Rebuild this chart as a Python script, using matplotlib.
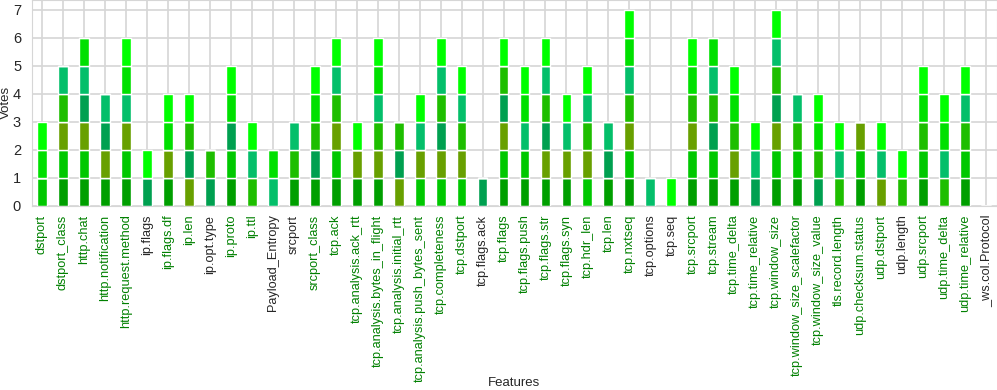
import numpy as np
import matplotlib
matplotlib.use("Agg")
import matplotlib.pyplot as plt
import seaborn as sns

features = ["dstport", "dstport_class", "http.chat", "http.notification",
            "http.request.method", "ip.flags", "ip.flags.df", "ip.len",
            "ip.opt.type", "ip.proto", "ip.ttl", "Payload_Entropy", "srcport",
            "srcport_class", "tcp.ack", "tcp.analysis.ack_rtt",
            "tcp.analysis.bytes_in_flight", "tcp.analysis.initial_rtt",
            "tcp.analysis.push_bytes_sent", "tcp.completeness", "tcp.dstport",
            "tcp.flags.ack", "tcp.flags", "tcp.flags.push", "tcp.flags.str",
            "tcp.flags.syn", "tcp.hdr_len", "tcp.len", "tcp.nxtseq",
            "tcp.options", "tcp.seq", "tcp.srcport", "tcp.stream",
            "tcp.time_delta", "tcp.time_relative", "tcp.window_size",
            "tcp.window_size_scalefactor", "tcp.window_size_value",
            "tls.record.length", "udp.checksum.status", "udp.dstport",
            "udp.length", "udp.srcport", "udp.time_delta", "udp.time_relative",
            "_ws.col.Protocol"]

# features whose label is drawn in black (the rest are green)
black_labels = ["ip.flags", "ip.opt.type", "Payload_Entropy", "srcport",
                "tcp.flags.ack", "tcp.options", "tcp.seq", "udp.length",
                "_ws.col.Protocol"]

# one vote (0/1) per feature for each selector, stacked bottom to top
votes_a = [0,1,1,1,1,0,1,0,0,1,0,0,1,1,1,1,1,0,0,0,0,0,1,1,1,1,0,1,1,0,0,1,1,1,0,1,1,0,0,1,0,0,1,0,1,0]
votes_b = [1,1,1,0,1,0,0,0,0,1,0,0,0,0,1,0,0,0,1,1,1,0,1,1,0,0,1,0,1,0,0,1,1,0,0,1,1,0,0,1,0,0,1,0,1,0]
votes_c = [0,1,1,1,1,0,1,1,0,0,0,0,0,0,1,1,1,1,1,1,1,0,1,0,1,1,1,0,1,0,0,1,0,1,0,1,0,0,0,1,1,0,0,0,0,0]
votes_d = [0,0,1,1,0,1,0,1,1,1,0,0,0,1,0,0,0,1,0,1,0,1,1,0,1,0,0,1,0,0,0,0,1,0,1,1,0,1,0,0,0,0,0,0,0,0]
votes_e = [0,1,0,0,0,0,0,1,1,0,1,0,1,1,1,0,1,1,0,1,1,0,1,0,1,0,1,0,1,0,0,1,1,1,0,1,1,1,1,0,0,1,1,1,1,0]
votes_f = [0,1,1,1,1,0,0,0,0,0,1,1,1,0,1,0,1,0,1,1,1,0,0,1,1,1,1,1,1,1,0,0,1,0,1,1,1,0,1,0,1,0,0,1,1,0]
votes_g = [1,0,1,0,1,0,1,0,0,1,0,1,0,1,0,0,1,0,0,0,0,0,0,1,0,0,0,0,1,0,0,1,1,1,0,0,0,1,0,0,0,0,1,1,0,0]
votes_h = [1,0,0,0,1,1,1,1,0,1,1,0,0,1,1,1,1,0,1,1,1,0,1,1,1,1,1,0,1,0,1,1,0,1,1,1,0,1,1,0,1,1,1,1,1,0]

all_votes = [votes_a, votes_b, votes_c, votes_d, votes_e, votes_f, votes_g, votes_h]
colors = ["#009f00", "#00c800", "#68a000", "#00a050",
          "#1ebe00", "#04bf6a", "#00e000", "#00ff00"]

sns.set_style("whitegrid")
plt.rcParams["font.family"] = ["Liberation Sans", "DejaVu Sans"]

fig, ax = plt.subplots(figsize=(9.97, 3.9), dpi=100)
fig.subplots_adjust(left=0.0316, right=0.9995, top=0.9995, bottom=0.473)

x = np.arange(len(features))
bottom = np.zeros(len(features))
for v, c in zip(all_votes, colors):
    v = np.array(v, dtype=float)
    ax.bar(x, v, width=0.47, bottom=bottom, color=c, edgecolor="white",
           linewidth=1, zorder=2)
    bottom += v

ax.set_xlim(-0.5, len(features) - 0.5)
ax.set_ylim(0, 7.35)
ax.set_yticks(range(8))
ax.set_xticks(x)
ax.set_xticklabels(features, rotation=90, fontsize=9.2)
for lbl in ax.get_xticklabels():
    lbl.set_color("#262626" if lbl.get_text() in black_labels else "green")
ax.tick_params(axis="y", labelsize=10.5, colors="#262626", pad=4)
ax.tick_params(axis="x", pad=3)
ax.grid(True, color="#d6d6d6", linewidth=1.2, zorder=0)
ax.set_axisbelow(True)
for s in ax.spines.values():
    s.set_color("#d6d6d6")
ax.set_xlabel("Features", fontsize=9.5, color="#262626")
ax.xaxis.set_label_coords(0.5, -0.835)
ax.set_ylabel("Votes", fontsize=9.5, color="#262626", labelpad=1)

fig.savefig("out.png", dpi=100)
